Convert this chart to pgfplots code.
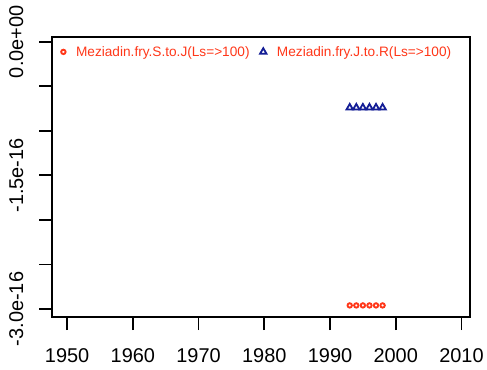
\documentclass[border=0pt]{standalone}
\usepackage{fontspec}
\setmainfont{Liberation Sans}
\usepackage{pgfplots}
\pgfplotsset{compat=1.18}
\definecolor{rred}{RGB}{255,55,25}
\definecolor{rblue}{RGB}{20,30,150}
\begin{document}
\begin{tikzpicture}
\path[use as bounding box] (0,0) rectangle (487bp,370bp);
\begin{axis}[
    at={(52bp,53bp)}, anchor=south west,
    scale only axis, width=418bp, height=280bp,
    xmin=1947.7, xmax=2011.3,
    ymin=-3.09e-16, ymax=0.053e-16,
    xtick={1950,1960,1970,1980,1990,2000,2010},
    xticklabels={1950,1960,1970,1980,1990,2000,2010},
    ytick={0,-0.5e-16,-1e-16,-1.5e-16,-2e-16,-2.5e-16,-3e-16},
    yticklabels={0.0e+00,,,-1.5e-16,,,-3.0e-16},
    scaled y ticks=false,
    tick align=outside, xtick pos=bottom, ytick pos=left,
    major tick length=13bp,
    axis line style={line width=1.7bp},
    every tick/.style={line width=1.7bp, black},
    tick label style={font=\fontsize{20}{24}\selectfont},
    xticklabel style={anchor=base, yshift=-32bp},
    yticklabel style={rotate=90, anchor=south, text depth=0pt, inner ysep=15.7bp},
    legend columns=2,
    legend style={draw=none, fill=none, at={(axis description cs:0,1)}, anchor=north west,
        xshift=9bp, yshift=-9bp, inner sep=0pt, column sep=10.5bp,
        nodes={inner sep=0pt},
        text=rred, font=\fontsize{13.7}{16}\selectfont},
    legend image code/.code={\draw[mark repeat=2,mark phase=2,#1] plot coordinates {(0bp,0bp) (5bp,0bp) (10bp,0bp)};},
]
\addplot[only marks, mark=o, mark size=2.2bp, rred, line width=1.9bp] coordinates {
    (1993,-2.96e-16) (1994,-2.96e-16) (1995,-2.96e-16) (1996,-2.96e-16) (1997,-2.96e-16) (1998,-2.96e-16)
};
\addlegendentry{Meziadin.fry.S.to.J(Ls=>100)}
\addplot[only marks, mark=triangle, mark size=3.7bp, rblue, line width=1.8bp] coordinates {
    (1993,-0.74e-16) (1994,-0.74e-16) (1995,-0.74e-16) (1996,-0.74e-16) (1997,-0.74e-16) (1998,-0.74e-16)
};
\addlegendentry{Meziadin.fry.J.to.R(Ls=>100)}
\end{axis}
\end{tikzpicture}
\end{document}
